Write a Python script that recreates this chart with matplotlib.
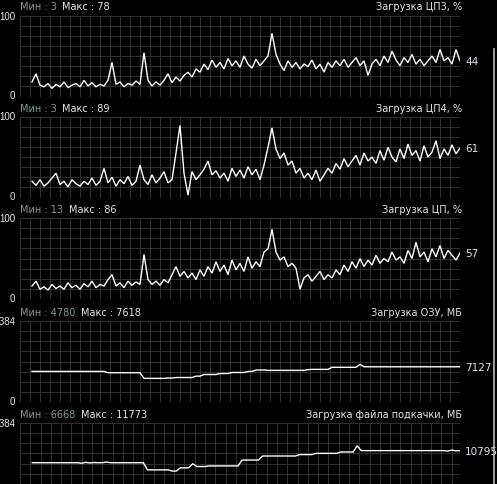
import numpy as np
import matplotlib
matplotlib.use("Agg")
import matplotlib.pyplot as plt
from matplotlib.lines import Line2D

# monitoring panels, one sample every ~4 px of the original graph
cpu3 = [18, 28, 14, 12, 16, 10, 15, 12, 18, 11, 14, 16, 12, 20, 13, 17, 12, 15, 13, 20,
        42, 15, 18, 12, 16, 14, 19, 15, 54, 20, 13, 18, 14, 20, 28, 17, 24, 19, 26, 30,
        24, 34, 30, 40, 33, 45, 36, 42, 34, 47, 38, 44, 36, 50, 40, 35, 46, 38, 44, 50,
        78, 52, 40, 32, 44, 36, 42, 34, 40, 37, 45, 34, 40, 30, 42, 36, 44, 38, 46, 36,
        42, 48, 38, 44, 26, 40, 46, 38, 50, 42, 56, 45, 38, 48, 42, 52, 40, 46, 38, 44,
        50, 42, 58, 44, 48, 40, 58, 44]
cpu4 = [20, 15, 22, 14, 18, 24, 30, 16, 20, 13, 22, 17, 14, 20, 16, 24, 15, 20, 36, 18,
        25, 14, 22, 17, 26, 15, 20, 40, 22, 16, 28, 18, 24, 32, 18, 22, 55, 89, 30, 3,
        32, 22, 28, 35, 45, 28, 33, 24, 30, 20, 36, 26, 34, 24, 38, 28, 35, 22, 40, 62,
        86, 60, 48, 55, 40, 45, 30, 36, 24, 30, 22, 34, 20, 28, 36, 30, 42, 35, 48, 38,
        45, 52, 40, 55, 45, 50, 42, 58, 46, 62, 50, 44, 60, 48, 66, 52, 58, 45, 64, 50,
        56, 70, 48, 60, 52, 65, 54, 61]
cpu = [16, 22, 12, 15, 11, 18, 13, 16, 12, 20, 14, 17, 12, 19, 15, 22, 14, 18, 16, 24,
       30, 16, 20, 14, 22, 17, 21, 18, 55, 24, 18, 22, 17, 24, 20, 30, 40, 28, 34, 26,
       32, 24, 36, 28, 40, 32, 46, 34, 42, 30, 48, 36, 44, 34, 52, 38, 46, 40, 58, 62,
       86, 58, 48, 52, 40, 44, 38, 12, 26, 30, 22, 28, 34, 24, 30, 26, 36, 30, 42, 34,
       46, 38, 50, 40, 48, 42, 54, 44, 50, 46, 58, 48, 52, 44, 60, 50, 70, 52, 58, 46,
       62, 52, 66, 50, 60, 54, 48, 57]
ram = ([6190] * 19 + [5920] * 9 + [4780] * 6 + [4850] * 2 + [4950] * 5 + [5230] * 2
       + [5560] * 4 + [5760] * 3 + [5970] * 4 + [6180] * 2 + [6470] * 3 + [6400] * 10
       + [6550] + [6600] * 5 + [7020] * 7 + [7618] + [7127] * 25)
swap = ([8350] * 12 + [8250, 8420, 8300, 8380, 8350] + [8350, 8480] + [8350] * 9
        + [6900] * 6 + [6668] * 2 + [7313] * 3 + [8130] + [7580] * 3 + [7700] * 8
        + [8890] * 5 + [9710] * 9 + [10000] * 4 + [10240] * 6 + [10520] * 4 + [11773]
        + [10795] * 21 + [10700, 10900, 10750, 10795])

series = [cpu3, cpu4, cpu, ram, swap]
titles = ["Загрузка ЦП3, %", "Загрузка ЦП4, %", "Загрузка ЦП, %",
          "Загрузка ОЗУ, МБ", "Загрузка файла подкачки, МБ"]
mins = [3, 3, 13, 4780, 6668]
maxs = [78, 89, 86, 7618, 11773]
ymax = [100, 100, 100, 16384, 16384]

W, H = 497, 485
tops = [16.5, 117.5, 219, 322, 424]
maks_x = [62, 62, 69, 81, 81]
ph = 81

teal = "#7f9e93"
light = "#e6e6e6"
plt.rcParams['font.family'] = ['DejaVu Sans']
fs = 7

fig = plt.figure(figsize=(W / 100, H / 100), dpi=100, facecolor="black")

def fx(px):
    return px / W

def fy(py):
    return 1 - py / H

for k in range(5):
    top = tops[k]
    ax = fig.add_axes([fx(20), fy(top + ph), fx(440), ph / H])
    ax.set_facecolor("black")
    vals = series[k]
    x = np.arange(len(vals))
    ax.set_xlim(-3, len(vals) - 1)
    ax.set_ylim(0, ymax[k])
    ax.set_xticks(np.arange(-3, len(vals) - 0.99, 2.5))
    ax.set_yticks(np.linspace(0, ymax[k], 9))
    ax.grid(True, color="#303030", lw=0.72)
    ax.tick_params(length=0, labelbottom=False, labelleft=False)
    for s in ax.spines.values():
        s.set_visible(False)
    ax.plot(x, vals, color="white", lw=1.0, solid_joinstyle="miter")
    ax.annotate(str(vals[-1]), xy=(x[-1], vals[-1]), xytext=(5, 0),
                textcoords="offset pixels", va="center", ha="left",
                color="#dfe4ea", fontsize=fs + 0.5, annotation_clip=False)

    # texts above each panel
    fig.text(fx(20), fy(top - 9), "Мин : %d" % mins[k], color=teal,
             fontsize=fs, va="center", ha="left")
    fig.text(fx(maks_x[k]), fy(top - 9), "Макс : %d" % maxs[k], color=light,
             fontsize=fs, va="center", ha="left")
    fig.text(fx(462), fy(top - 9), titles[k], color=light,
             fontsize=fs, va="center", ha="right")
    fig.text(fx(15.5), fy(top), str(ymax[k]), color=light, family="Liberation Sans",
             fontsize=7, va="center", ha="right")
    if top + ph < H:
        fig.text(fx(15.5), fy(top + ph - 1), "0", color=light, family="Liberation Sans",
                 fontsize=7, va="center", ha="right")

# scrollbar edge on the right
fig.add_artist(Line2D([fx(494), fx(494)], [fy(50), 0], color="#b8b8b8", lw=1.2,
                      transform=fig.transFigure))

fig.savefig("out.png", dpi=100, facecolor="black")
